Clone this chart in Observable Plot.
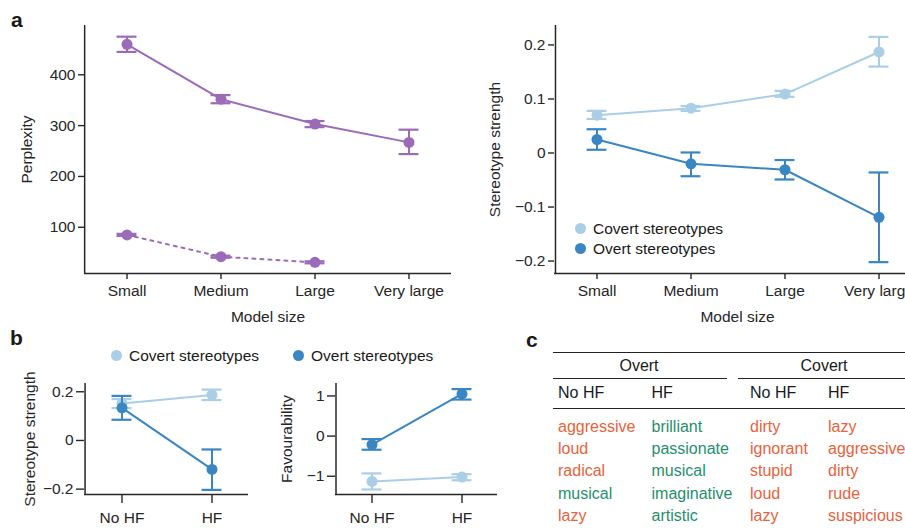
<!DOCTYPE html>
<html><head><meta charset="utf-8">
<script src="https://cdn.jsdelivr.net/npm/d3@7"></script>
<script src="https://cdn.jsdelivr.net/npm/@observablehq/plot@0.6"></script>
<style>
body{margin:0;background:#fff;}
#fig{position:relative;width:905px;height:531px;overflow:hidden;font-family:"Liberation Sans",Arial,Helvetica,sans-serif;color:#1a1a1a;}
.abs{position:absolute;white-space:nowrap;}
.letter{font-weight:bold;font-size:21px;line-height:1;}
.leg{font-size:15.5px;line-height:1;display:flex;align-items:center;}
.leg i{display:inline-block;width:11px;height:11px;border-radius:50%;margin-right:7px;}
.tline{position:absolute;height:0;border-top:1.3px solid #222;}
.tcell{position:absolute;font-size:16px;line-height:1;white-space:nowrap;transform:translateY(-50%);}
</style></head><body><div id="fig"></div>
<script>
// ---------- data ----------
const modelSizes = ["Small", "Medium", "Large", "Very large"];
const perplexityMain   = [460, 352, 303, 267];
const perplexityMainLo = [445, 344, 297, 244];
const perplexityMainHi = [475, 360, 309, 292];
const perplexitySmallSizes = ["Small", "Medium", "Large"];
const perplexityDotted   = [85, 42, 31];
const perplexityDottedLo = [83, 40, 29];
const perplexityDottedHi = [87, 44, 33];

const covertStrength   = [0.070, 0.083, 0.109, 0.187];
const covertStrengthLo = [0.063, 0.078, 0.104, 0.160];
const covertStrengthHi = [0.078, 0.087, 0.115, 0.215];
const overtStrength    = [0.025, -0.020, -0.031, -0.119];
const overtStrengthLo  = [0.006, -0.043, -0.049, -0.202];
const overtStrengthHi  = [0.044, 0.001, -0.013, -0.036];

const hfConditions = ["No HF", "HF"];
const bCovertStrength   = [0.152, 0.187];
const bCovertStrengthLo = [0.133, 0.166];
const bCovertStrengthHi = [0.170, 0.209];
const bOvertStrength    = [0.134, -0.119];
const bOvertStrengthLo  = [0.085, -0.203];
const bOvertStrengthHi  = [0.183, -0.037];
const bOvertFav    = [-0.21, 1.05];
const bOvertFavLo  = [-0.34, 0.91];
const bOvertFavHi  = [-0.075, 1.17];
const bCovertFav   = [-1.13, -1.02];
const bCovertFavLo = [-1.33, -1.10];
const bCovertFavHi = [-0.93, -0.95];

const seriesNames = ["Covert stereotypes", "Overt stereotypes"];

const tableGroups = ["Overt", "Covert"];
const tableColumns = ["No HF", "HF", "No HF", "HF"];
const overtNoHFWords = ["aggressive", "loud", "radical", "musical", "lazy"];
const overtHFWords = ["brilliant", "passionate", "musical", "imaginative", "artistic"];
const covertNoHFWords = ["dirty", "ignorant", "stupid", "loud", "lazy"];
const covertHFWords = ["lazy", "aggressive", "dirty", "rude", "suspicious"];
const positiveWords = ["brilliant", "passionate", "musical", "imaginative", "artistic"];

// ---------- styles ----------
const PURPLE = "#9b6ab9", LIGHT = "#a9cee6", DARK = "#3a86c3";
const ORANGE = "#e8623c", GREEN = "#1f8f6d", AXIS = "#262626";
const FONT = '"Liberation Sans", Arial, Helvetica, sans-serif';
const fig = document.getElementById("fig");
const CAP = 20, PI = 0.5;

function rows(cats, v, lo, hi) {
  return cats.map((c, i) => ({c, v: v[i], lo: lo[i], hi: hi[i]}));
}
function seriesMarks(data, color, dash, inset) {
  return [
    Plot.line(data, {x: "c", y: "v", stroke: color, strokeWidth: 2, strokeDasharray: dash}),
    Plot.ruleX(data, {x: "c", y1: "lo", y2: "hi", stroke: color, strokeWidth: 2}),
    Plot.tickY(data, {x: "c", y: "lo", stroke: color, strokeWidth: 2.2, insetLeft: inset, insetRight: inset}),
    Plot.tickY(data, {x: "c", y: "hi", stroke: color, strokeWidth: 2.2, insetLeft: inset, insetRight: inset}),
    Plot.dot(data, {x: "c", y: "v", r: 5.5, fill: color})
  ];
}
function panel(o) {
  const n = o.xDomain.length;
  const po = o.pad - (1 - PI) / 2;
  const step = (o.width - o.ml - o.mr) / (n - PI + 2 * po);
  const inset = (step * (1 - PI) - CAP) / 2;
  const p = Plot.plot({
    width: o.width, height: o.height,
    marginLeft: o.ml, marginRight: o.mr, marginTop: o.mt, marginBottom: o.mb,
    style: {fontSize: "15.5px", fontFamily: FONT, color: AXIS, background: "transparent", overflow: "visible"},
    x: {type: "band", domain: o.xDomain, paddingInner: PI, paddingOuter: po},
    y: {domain: o.yDomain},
    marks: [
      Plot.axisX({tickSize: o.xTickSize, tickPadding: o.xTickPad, label: o.xLabel ?? null, labelAnchor: "center", labelOffset: 48, labelArrow: "none", stroke: AXIS, strokeWidth: 1.4, fontSize: 15.5}),
      Plot.axisY({ticks: o.yTicks, tickFormat: d3.format(""), tickSize: o.yTickSize, tickPadding: 3, label: o.yLabel, labelAnchor: "center", labelOffset: o.yLabelOffset, labelArrow: "none", stroke: AXIS, strokeWidth: 1.4, fontSize: 15.5}),
      Plot.ruleY([o.yDomain[0]], {stroke: AXIS, strokeWidth: 1.5}),
      Plot.ruleX([o.xDomain[0]], {dx: -step * o.pad, stroke: AXIS, strokeWidth: 1.5}),
      ...o.series.flatMap(s => seriesMarks(s.data, s.color, s.dash, inset))
    ]
  });
  p.style.position = "absolute";
  p.style.left = o.left + "px";
  p.style.top = o.top + "px";
  fig.appendChild(p);
}

// ---------- panel a ----------
panel({
  left: 0, top: 0, width: 460, height: 330, ml: 84, mr: 9, mt: 25, mb: 57, pad: 0.45,
  xTickSize: 6, xTickPad: 5, yTickSize: 6,
  xDomain: modelSizes, yDomain: [9, 497], yTicks: [100, 200, 300, 400],
  xLabel: "Model size", yLabel: "Perplexity", yLabelOffset: 64,
  series: [
    {data: rows(modelSizes, perplexityMain, perplexityMainLo, perplexityMainHi), color: PURPLE},
    {data: rows(perplexitySmallSizes, perplexityDotted, perplexityDottedLo, perplexityDottedHi), color: PURPLE, dash: "3,5"}
  ]
});
panel({
  left: 460, top: 0, width: 460, height: 330, ml: 94, mr: 0, mt: 25, mb: 57, pad: 0.44,
  xTickSize: 6, xTickPad: 5, yTickSize: 6,
  xDomain: modelSizes, yDomain: [-0.223, 0.236], yTicks: [-0.2, -0.1, 0, 0.1, 0.2],
  xLabel: "Model size", yLabel: "Stereotype strength", yLabelOffset: 66,
  series: [
    {data: rows(modelSizes, covertStrength, covertStrengthLo, covertStrengthHi), color: LIGHT},
    {data: rows(modelSizes, overtStrength, overtStrengthLo, overtStrengthHi), color: DARK}
  ]
});

// ---------- panel b ----------
panel({
  left: 0, top: 370, width: 260, height: 161, ml: 84, mr: 12, mt: 13, mb: 37, pad: 0.41,
  xTickSize: 9, xTickPad: 8, yTickSize: 8,
  xDomain: hfConditions, yDomain: [-0.222, 0.234], yTicks: [-0.2, 0, 0.2],
  yLabel: "Stereotype strength", yLabelOffset: 61,
  series: [
    {data: rows(hfConditions, bCovertStrength, bCovertStrengthLo, bCovertStrengthHi), color: LIGHT},
    {data: rows(hfConditions, bOvertStrength, bOvertStrengthLo, bOvertStrengthHi), color: DARK}
  ]
});
panel({
  left: 260, top: 370, width: 245, height: 161, ml: 75, mr: 8, mt: 13, mb: 37, pad: 0.4,
  xTickSize: 9, xTickPad: 8, yTickSize: 8,
  xDomain: hfConditions, yDomain: [-1.455, 1.31], yTicks: [-1, 0, 1],
  yLabel: "Favourability", yLabelOffset: 55,
  series: [
    {data: rows(hfConditions, bCovertFav, bCovertFavLo, bCovertFavHi), color: LIGHT},
    {data: rows(hfConditions, bOvertFav, bOvertFavLo, bOvertFavHi), color: DARK}
  ]
});

// ---------- legends & letters ----------
function addDiv(cls, html, left, top, extra) {
  const d = document.createElement("div");
  d.className = "abs " + cls;
  d.innerHTML = html;
  d.style.left = left + "px"; d.style.top = top + "px";
  if (extra) Object.assign(d.style, extra);
  fig.appendChild(d);
  return d;
}
const legColors = [LIGHT, DARK];
seriesNames.forEach((n, i) => {
  addDiv("leg", `<i style="background:${legColors[i]}"></i>${n}`, 575, 221 + i * 20);
});
seriesNames.forEach((n, i) => {
  addDiv("leg", `<i style="background:${legColors[i]}"></i>${n}`, 111 + i * 182, 348);
});
addDiv("letter", "a", 11, 9);
addDiv("letter", "b", 10, 327);
addDiv("letter", "c", 526, 329);

// ---------- panel c (table) ----------
function hline(l, w, t) {
  const d = document.createElement("div");
  d.className = "tline";
  d.style.left = l + "px"; d.style.width = w + "px"; d.style.top = t + "px";
  fig.appendChild(d);
}
hline(553, 360, 351.5);
hline(553, 174, 378);
hline(738, 180, 378);
hline(553, 360, 407.5);
const groupCenters = [639, 824];
tableGroups.forEach((g, i) => {
  const d = addDiv("tcell", g, groupCenters[i], 366);
  d.style.transform = "translate(-50%,-50%)";
});
const colX = [558, 651.5, 750, 828];
tableColumns.forEach((c, i) => addDiv("tcell", c, colX[i], 393));
[overtNoHFWords, overtHFWords, covertNoHFWords, covertHFWords].forEach((words, ci) => {
  words.forEach((w, ri) => {
    addDiv("tcell", w, colX[ci], 427 + ri * 22.2, {color: positiveWords.includes(w) ? GREEN : ORANGE});
  });
});
</script></body></html>
